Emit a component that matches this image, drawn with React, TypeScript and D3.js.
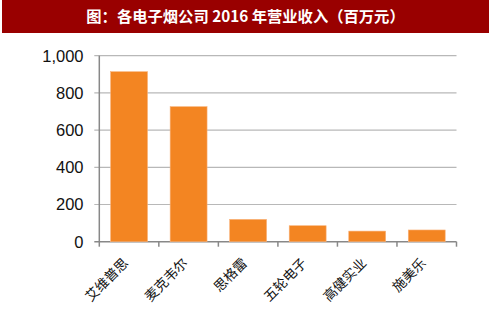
import React from "react";
import * as d3 from "d3";

const categories = ["艾维普思", "麦克韦尔", "思格雷", "五轮电子", "高健实业", "施美乐"];
const values = [914, 726, 120, 86, 57, 63];
const yTicks = [0, 200, 400, 600, 800, 1000];
const title = "图：各电子烟公司 2016 年营业收入（百万元）";

const W = 489;
const H = 311;
const left = 99.3;
const right = 456.5;
const top = 55.7;
const bottom = 241.7;

export default function App() {
  const x = d3.scaleBand<string>().domain(categories).range([left, right]).paddingInner(0.38).paddingOuter(0.19);
  const xb = d3.scaleBand<string>().domain(categories).range([left, right]);
  const y = d3.scaleLinear().domain([0, 1000]).range([bottom, top]);
  const fmt = d3.format(",");
  return (
    <svg width={W} height={H} style={{ position: "absolute", left: 0, top: 0, background: "#fff" }}>
      <rect x={2} y={0} width={487} height={33} fill="#990000" />
      <text x={245.5} y={22} textAnchor="middle" fill="#fff" fontFamily="'Noto Sans CJK SC'" fontWeight="bold" fontSize={15.3}>
        {title}
      </text>
      {yTicks.map((t) => (
        <g key={t}>
          <line x1={left - 5} x2={right} y1={y(t)} y2={y(t)} stroke={t === 0 ? "#888" : "#b8b8b8"} strokeWidth={t === 0 ? 1.5 : 1.2} />
          <text x={83.5} y={y(t)} dy="0.36em" textAnchor="end" fontFamily="'Liberation Sans', Arial" fontSize={16.5} fill="#111">
            {fmt(t)}
          </text>
        </g>
      ))}
      <line x1={left} x2={left} y1={top} y2={bottom} stroke="#888" strokeWidth={1.5} />
      {categories.map((c, i) => (
        <rect key={c} x={x(c)} y={y(values[i])} width={x.bandwidth()} height={bottom - y(values[i])} fill="#f38522" stroke="#f9b27a" strokeWidth={0.6} />
      ))}
      {[...categories.map((c) => xb(c) as number), right].map((tx, i) => (
        <line key={i} x1={tx} x2={tx} y1={bottom} y2={bottom + 5} stroke="#888" strokeWidth={1.5} />
      ))}
      {categories.map((c) => {
        const cx = (xb(c) as number) + xb.bandwidth() / 2;
        const cy = 264;
        return (
          <text key={c} x={cx} y={cy} transform={`rotate(-45 ${cx} ${cy})`} textAnchor="end" fontFamily="'Noto Sans CJK SC'" fontSize={13.5} fill="#111">
            {c}
          </text>
        );
      })}
    </svg>
  );
}
